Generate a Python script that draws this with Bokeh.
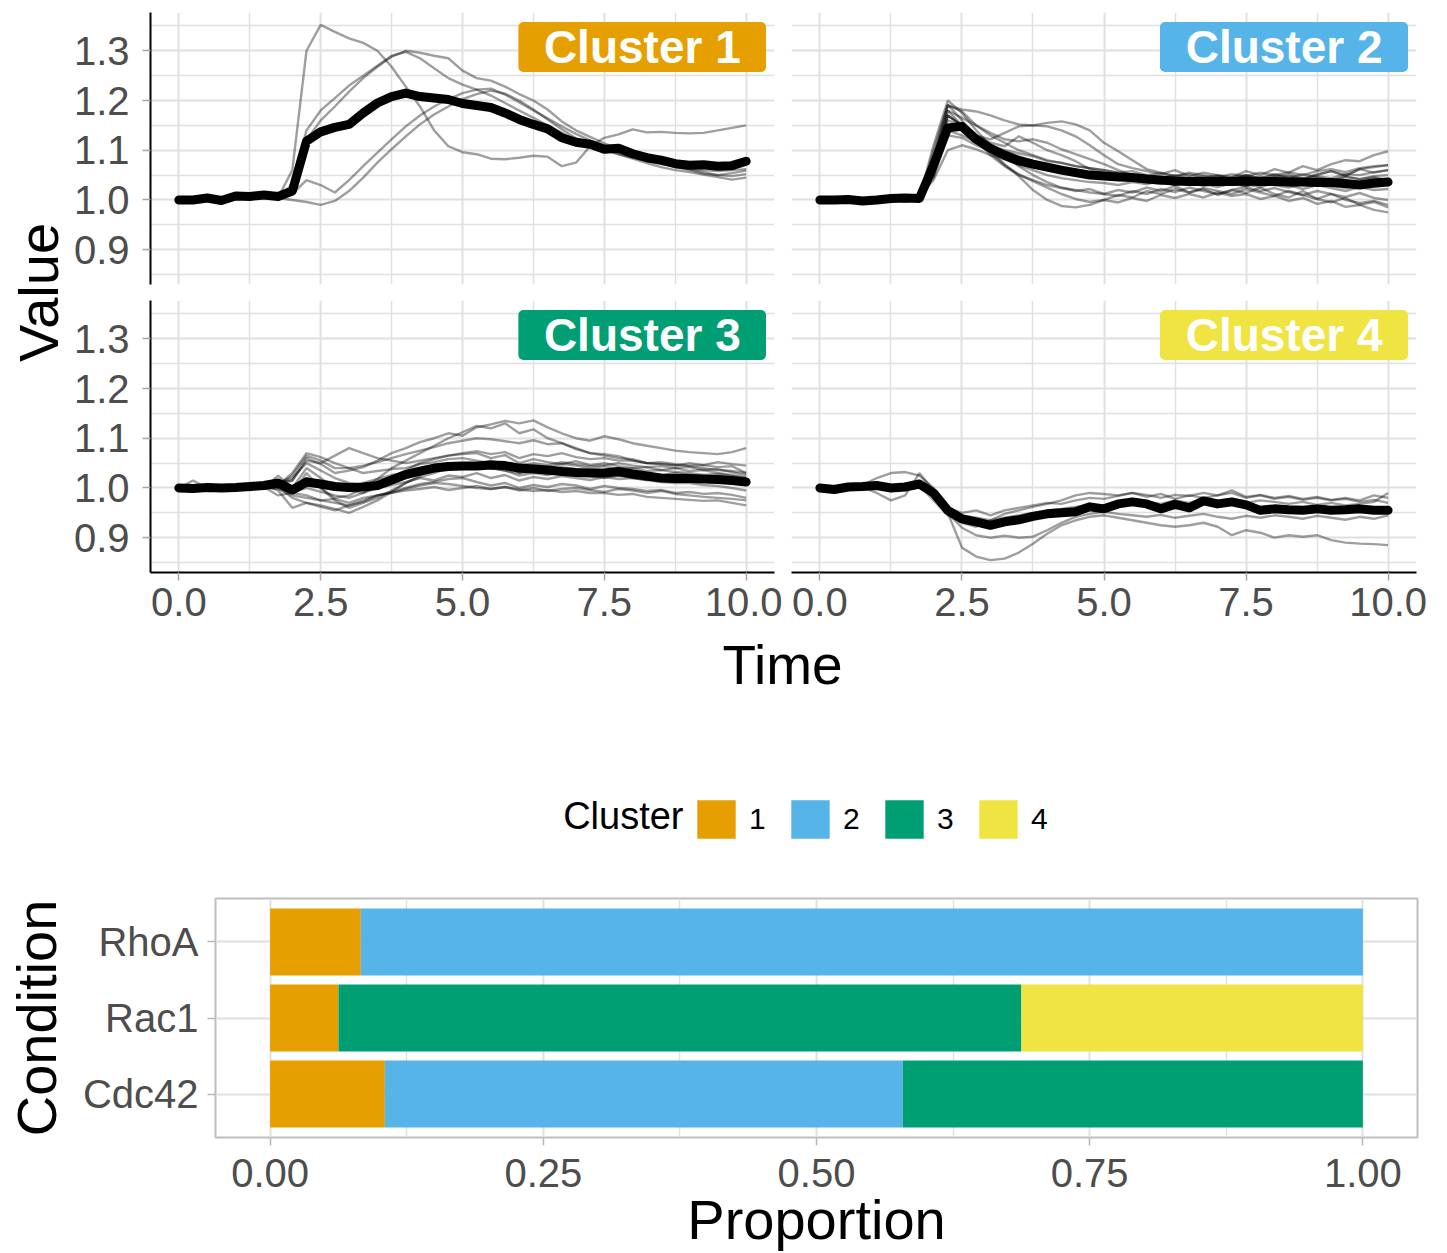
import math
from bokeh.plotting import figure
from bokeh.layouts import row, column
from bokeh.models import (ColumnDataSource, Range1d, FactorRange, LinearAxis, Grid, FixedTicker,
                          PrintfTickFormatter, Label, BoxAnnotation, Legend, LegendItem)
from bokeh.embed import file_html
from bokeh.resources import INLINE

# ---------------- data ----------------
time = [0.0, 0.25, 0.5, 0.75, 1.0, 1.25, 1.5, 1.75, 2.0, 2.25,
        2.5, 2.75, 3.0, 3.25, 3.5, 3.75, 4.0, 4.25, 4.5, 4.75,
        5.0, 5.25, 5.5, 5.75, 6.0, 6.25, 6.5, 6.75, 7.0, 7.25,
        7.5, 7.75, 8.0, 8.25, 8.5, 8.75, 9.0, 9.25, 9.5, 9.75, 10.0]

cluster_names = ["Cluster 1", "Cluster 2", "Cluster 3", "Cluster 4"]
cluster_labels = ["1", "2", "3", "4"]
cluster_colors = ["#E69F00", "#56B4E9", "#009E73", "#F0E442"]

# Cluster 1
c1_mean = [1.000, 1.000, 1.004, 0.999, 1.008, 1.007, 1.010, 1.007, 1.018, 1.118,
           1.137, 1.146, 1.152, 1.175, 1.195, 1.208, 1.215, 1.208, 1.205, 1.202,
           1.194, 1.190, 1.186, 1.175, 1.162, 1.152, 1.143, 1.125, 1.116, 1.112,
           1.102, 1.104, 1.093, 1.085, 1.080, 1.073, 1.070, 1.071, 1.068, 1.069, 1.078]
c1_a = [1.000, 1.002, 1.005, 1.000, 1.010, 1.012, 1.010, 1.005, 1.060, 1.300,
        1.352, 1.338, 1.325, 1.316, 1.300, 1.268, 1.228, 1.188, 1.140, 1.108,
        1.096, 1.092, 1.083, 1.082, 1.085, 1.089, 1.087, 1.068, 1.075, 1.108,
        1.125, 1.132, 1.142, 1.136, 1.137, 1.135, 1.134, 1.135, 1.140, 1.145, 1.150]
c1_b = [1.000, 0.998, 1.002, 1.003, 1.005, 1.008, 1.012, 1.010, 1.020, 1.120,
        1.160, 1.188, 1.218, 1.245, 1.268, 1.288, 1.300, 1.296, 1.290, 1.285,
        1.260, 1.245, 1.240, 1.228, 1.213, 1.200, 1.182, 1.158, 1.140, 1.127,
        1.114, 1.103, 1.093, 1.085, 1.074, 1.066, 1.060, 1.053, 1.050, 1.054, 1.059]
c1_c = [1.000, 1.001, 0.999, 1.004, 1.006, 1.004, 1.009, 1.008, 1.030, 1.140,
        1.180, 1.205, 1.230, 1.250, 1.270, 1.290, 1.298, 1.285, 1.265, 1.245,
        1.232, 1.222, 1.210, 1.195, 1.180, 1.165, 1.150, 1.135, 1.120, 1.110,
        1.100, 1.092, 1.085, 1.078, 1.072, 1.068, 1.063, 1.060, 1.058, 1.060, 1.062]
c1_d = [1.000, 1.000, 1.003, 1.002, 1.006, 1.005, 1.008, 1.006, 1.012, 1.040,
        1.030, 1.015, 1.040, 1.068, 1.095, 1.122, 1.148, 1.170, 1.188, 1.203,
        1.215, 1.222, 1.224, 1.212, 1.196, 1.180, 1.164, 1.148, 1.133, 1.120,
        1.110, 1.100, 1.090, 1.083, 1.076, 1.068, 1.062, 1.056, 1.050, 1.048, 1.052]
c1_e = [1.000, 0.999, 1.001, 1.000, 1.004, 1.006, 1.006, 1.004, 1.000, 0.996,
        0.990, 0.998, 1.018, 1.045, 1.075, 1.102, 1.128, 1.152, 1.172, 1.188,
        1.203, 1.213, 1.220, 1.214, 1.200, 1.182, 1.162, 1.142, 1.124, 1.112,
        1.102, 1.092, 1.083, 1.074, 1.066, 1.060, 1.056, 1.051, 1.046, 1.041, 1.045]

# Cluster 2
c2_mean = [1.000, 1.000, 1.001, 0.998, 1.000, 1.003, 1.004, 1.003, 1.070, 1.145,
           1.148, 1.122, 1.104, 1.090, 1.079, 1.072, 1.066, 1.060, 1.055, 1.050,
           1.048, 1.046, 1.045, 1.042, 1.040, 1.038, 1.037, 1.037, 1.037, 1.037,
           1.038, 1.037, 1.037, 1.036, 1.036, 1.035, 1.035, 1.033, 1.030, 1.034, 1.036]
c2_01 = [1.000, 0.996, 1.003, 0.998, 1.002, 1.006, 1.004, 1.008, 1.080, 1.190,
         1.182, 1.178, 1.170, 1.160, 1.152, 1.150, 1.155, 1.158, 1.152, 1.140,
         1.115, 1.098, 1.080, 1.062, 1.055, 1.048, 1.052, 1.045, 1.050, 1.042,
         1.048, 1.040, 1.046, 1.052, 1.044, 1.050, 1.058, 1.048, 1.062, 1.055, 1.060]
c2_02 = [1.000, 1.004, 0.998, 1.002, 0.997, 1.003, 1.007, 1.004, 1.060, 1.170,
         1.150, 1.130, 1.122, 1.135, 1.148, 1.150, 1.148, 1.140, 1.128, 1.110,
         1.090, 1.072, 1.064, 1.058, 1.052, 1.060, 1.048, 1.055, 1.050, 1.046,
         1.058, 1.050, 1.062, 1.055, 1.068, 1.060, 1.072, 1.080, 1.078, 1.090, 1.098]
c2_03 = [1.000, 0.998, 1.002, 0.995, 1.000, 1.004, 1.000, 1.005, 1.110, 1.200,
         1.175, 1.140, 1.110, 1.090, 1.068, 1.050, 1.036, 1.025, 1.018, 1.022,
         1.012, 1.020, 1.015, 1.025, 1.018, 1.028, 1.015, 1.022, 1.010, 1.020,
         1.014, 1.025, 1.012, 1.005, 1.018, 1.002, 0.995, 1.004, 0.990, 0.996, 0.985]
c2_04 = [1.000, 1.003, 0.999, 1.004, 1.001, 0.998, 1.005, 1.003, 1.070, 1.180,
         1.165, 1.150, 1.130, 1.115, 1.100, 1.090, 1.080, 1.074, 1.068, 1.064,
         1.060, 1.055, 1.058, 1.050, 1.054, 1.048, 1.055, 1.050, 1.046, 1.052,
         1.048, 1.055, 1.050, 1.044, 1.052, 1.046, 1.040, 1.048, 1.042, 1.046, 1.040]
c2_05 = [1.000, 1.002, 1.005, 1.001, 1.004, 1.000, 1.003, 1.006, 1.040, 1.100,
         1.110, 1.102, 1.090, 1.082, 1.072, 1.066, 1.060, 1.056, 1.052, 1.050,
         1.048, 1.044, 1.046, 1.040, 1.044, 1.038, 1.045, 1.040, 1.036, 1.042,
         1.038, 1.046, 1.040, 1.048, 1.042, 1.052, 1.058, 1.050, 1.062, 1.066, 1.070]
c2_06 = [1.000, 0.997, 1.001, 0.996, 0.999, 1.002, 0.998, 1.004, 1.060, 1.160,
         1.150, 1.125, 1.100, 1.072, 1.048, 1.020, 1.000, 0.988, 0.985, 0.990,
         1.000, 1.010, 1.005, 1.018, 1.012, 1.022, 1.015, 1.024, 1.018, 1.012,
         1.022, 1.015, 1.008, 1.018, 1.010, 1.002, 1.012, 1.000, 0.994, 0.998, 0.990]
c2_07 = [1.000, 1.002, 0.998, 1.001, 1.005, 1.002, 1.006, 1.008, 1.090, 1.190,
         1.178, 1.150, 1.135, 1.122, 1.118, 1.122, 1.115, 1.102, 1.092, 1.082,
         1.072, 1.060, 1.050, 1.042, 1.036, 1.030, 1.038, 1.032, 1.026, 1.034,
         1.028, 1.036, 1.030, 1.025, 1.032, 1.038, 1.030, 1.024, 1.032, 1.026, 1.030]
c2_08 = [1.000, 0.999, 1.003, 1.000, 0.997, 1.001, 1.004, 1.002, 1.065, 1.170,
         1.150, 1.120, 1.100, 1.082, 1.070, 1.060, 1.050, 1.044, 1.040, 1.036,
         1.034, 1.030, 1.036, 1.032, 1.038, 1.030, 1.036, 1.028, 1.034, 1.040,
         1.032, 1.026, 1.034, 1.030, 1.022, 1.030, 1.024, 1.018, 1.026, 1.020, 1.022]
c2_09 = [1.000, 1.003, 1.000, 1.004, 0.999, 1.003, 1.001, 1.005, 1.050, 1.150,
         1.140, 1.120, 1.110, 1.100, 1.094, 1.088, 1.078, 1.075, 1.068, 1.064,
         1.060, 1.055, 1.050, 1.046, 1.044, 1.050, 1.044, 1.040, 1.048, 1.042,
         1.050, 1.044, 1.052, 1.046, 1.040, 1.048, 1.044, 1.052, 1.050, 1.056, 1.060]
c2_10 = [1.000, 0.995, 0.999, 0.994, 0.998, 1.001, 0.997, 1.003, 1.080, 1.180,
         1.150, 1.120, 1.095, 1.070, 1.052, 1.038, 1.025, 1.012, 1.002, 0.996,
         1.000, 0.995, 1.004, 0.998, 1.010, 1.004, 1.012, 1.005, 1.015, 1.008,
         1.012, 1.002, 1.008, 0.998, 1.004, 0.992, 0.998, 0.986, 0.990, 0.980, 0.975]
c2_11 = [1.000, 1.001, 1.004, 1.002, 1.006, 1.003, 1.001, 1.004, 1.045, 1.130,
         1.125, 1.110, 1.098, 1.088, 1.080, 1.072, 1.062, 1.060, 1.056, 1.052,
         1.048, 1.044, 1.040, 1.046, 1.040, 1.036, 1.044, 1.038, 1.042, 1.036,
         1.044, 1.040, 1.046, 1.040, 1.036, 1.044, 1.038, 1.046, 1.042, 1.048, 1.050]
c2_12 = [1.000, 1.004, 1.001, 0.997, 1.002, 1.005, 1.003, 1.006, 1.070, 1.170,
         1.150, 1.130, 1.115, 1.108, 1.128, 1.115, 1.100, 1.090, 1.078, 1.062,
         1.055, 1.048, 1.040, 1.036, 1.032, 1.040, 1.034, 1.030, 1.038, 1.032,
         1.028, 1.036, 1.030, 1.036, 1.042, 1.034, 1.040, 1.032, 1.038, 1.044, 1.040]
c2_13 = [1.000, 0.998, 0.995, 1.000, 1.003, 0.999, 1.002, 1.004, 1.100, 1.192,
         1.160, 1.120, 1.090, 1.068, 1.050, 1.040, 1.030, 1.024, 1.020, 1.015,
         1.012, 1.008, 1.018, 1.012, 1.022, 1.016, 1.025, 1.018, 1.012, 1.020,
         1.026, 1.018, 1.024, 1.016, 1.010, 1.018, 1.012, 1.006, 1.014, 1.004, 1.000]
c2_14 = [1.000, 1.002, 0.999, 1.003, 1.000, 1.004, 1.006, 1.003, 1.050, 1.140,
         1.130, 1.118, 1.105, 1.098, 1.088, 1.078, 1.060, 1.064, 1.058, 1.052,
         1.048, 1.044, 1.048, 1.042, 1.046, 1.040, 1.044, 1.048, 1.042, 1.046,
         1.050, 1.044, 1.050, 1.056, 1.050, 1.058, 1.062, 1.056, 1.064, 1.068, 1.070]

# Cluster 3
c3_mean = [1.000, 0.999, 1.001, 1.000, 1.001, 1.003, 1.005, 1.010, 0.996, 1.012,
           1.008, 1.003, 1.001, 1.002, 1.005, 1.016, 1.027, 1.034, 1.040, 1.043,
           1.044, 1.044, 1.046, 1.045, 1.040, 1.038, 1.036, 1.033, 1.031, 1.030,
           1.030, 1.033, 1.028, 1.024, 1.020, 1.019, 1.019, 1.018, 1.017, 1.015, 1.012]
c3_01 = [1.000, 1.004, 0.998, 1.002, 1.000, 1.006, 1.003, 1.008, 1.015, 1.060,
         1.048, 1.030, 1.035, 1.042, 1.055, 1.070, 1.080, 1.092, 1.100, 1.110,
         1.105, 1.122, 1.128, 1.135, 1.130, 1.136, 1.122, 1.110, 1.100, 1.095,
         1.104, 1.098, 1.090, 1.085, 1.080, 1.075, 1.072, 1.070, 1.068, 1.072, 1.080]
c3_02 = [1.000, 0.996, 1.002, 0.999, 1.003, 0.998, 1.004, 1.000, 0.990, 1.020,
         1.000, 0.980, 0.985, 1.000, 1.018, 1.040, 1.055, 1.070, 1.085, 1.100,
         1.112, 1.125, 1.120, 1.130, 1.110, 1.118, 1.100, 1.090, 1.080, 1.070,
         1.065, 1.060, 1.058, 1.050, 1.048, 1.045, 1.050, 1.046, 1.052, 1.048, 1.045]
c3_03 = [1.000, 1.002, 1.006, 1.001, 0.997, 1.004, 1.010, 1.005, 1.025, 1.065,
         1.055, 1.040, 1.040, 1.045, 1.052, 1.060, 1.068, 1.075, 1.082, 1.090,
         1.095, 1.100, 1.098, 1.094, 1.090, 1.096, 1.088, 1.090, 1.078, 1.070,
         1.068, 1.064, 1.055, 1.050, 1.048, 1.046, 1.044, 1.040, 1.036, 1.034, 1.030]
c3_04 = [1.000, 0.998, 1.003, 0.996, 1.001, 1.005, 0.999, 1.004, 1.000, 1.040,
         1.020, 1.000, 0.995, 0.990, 1.005, 1.020, 1.035, 1.050, 1.058, 1.065,
         1.068, 1.070, 1.060, 1.066, 1.050, 1.058, 1.052, 1.048, 1.054, 1.046,
         1.050, 1.044, 1.040, 1.042, 1.036, 1.040, 1.034, 1.036, 1.030, 1.026, 1.020]
c3_05 = [1.000, 1.003, 0.999, 1.002, 0.998, 1.000, 1.004, 0.995, 0.960, 0.970,
         0.965, 0.958, 0.950, 0.962, 0.975, 0.992, 1.010, 1.025, 1.040, 1.045,
         1.050, 1.048, 1.055, 1.046, 1.040, 1.046, 1.042, 1.048, 1.045, 1.040,
         1.044, 1.038, 1.040, 1.034, 1.036, 1.032, 1.030, 1.026, 1.028, 1.024, 1.020]
c3_06 = [1.000, 0.997, 1.001, 1.004, 0.999, 0.996, 1.002, 0.998, 0.985, 0.980,
         0.975, 0.978, 0.970, 0.980, 0.985, 0.990, 0.995, 0.998, 1.002, 0.996,
         1.000, 1.004, 0.998, 1.002, 0.995, 1.000, 0.994, 0.998, 1.000, 0.996,
         0.992, 0.998, 0.995, 0.990, 0.994, 0.988, 0.985, 0.982, 0.980, 0.978, 0.975]
c3_07 = [1.000, 1.015, 1.000, 1.003, 1.001, 1.007, 1.004, 1.010, 1.020, 1.050,
         1.035, 1.020, 1.010, 1.005, 1.000, 1.006, 1.012, 1.020, 1.015, 1.025,
         1.022, 1.030, 1.020, 1.026, 1.015, 1.022, 1.018, 1.024, 1.020, 1.016,
         1.022, 1.018, 1.020, 1.016, 1.022, 1.018, 1.014, 1.016, 1.012, 1.014, 1.005]
c3_08 = [1.000, 1.001, 1.004, 0.999, 1.002, 1.001, 1.006, 1.004, 0.990, 1.030,
         1.000, 0.975, 0.960, 0.970, 0.980, 0.995, 1.010, 1.022, 1.030, 1.040,
         1.038, 1.045, 1.040, 1.035, 1.030, 1.034, 1.028, 1.034, 1.030, 1.026,
         1.030, 1.024, 1.028, 1.022, 1.025, 1.020, 1.022, 1.018, 1.016, 1.020, 1.010]
c3_09 = [1.000, 0.999, 0.997, 1.002, 1.000, 1.003, 0.999, 1.002, 0.980, 0.970,
         0.962, 0.955, 0.965, 0.975, 0.985, 0.992, 1.000, 1.008, 1.012, 1.018,
         1.020, 1.012, 1.005, 1.010, 1.000, 1.006, 1.002, 1.008, 1.005, 0.998,
         1.004, 1.000, 0.998, 0.994, 0.996, 0.990, 0.992, 0.988, 0.990, 0.986, 0.980]
c3_10 = [1.000, 1.002, 1.000, 1.005, 1.003, 1.001, 1.008, 1.006, 1.030, 1.070,
         1.062, 1.050, 1.040, 1.030, 1.034, 1.038, 1.040, 1.048, 1.052, 1.058,
         1.060, 1.055, 1.050, 1.048, 1.045, 1.050, 1.046, 1.052, 1.048, 1.044,
         1.046, 1.050, 1.045, 1.042, 1.044, 1.040, 1.042, 1.036, 1.038, 1.032, 1.025]
c3_11 = [1.000, 0.998, 1.002, 1.000, 0.996, 1.002, 1.000, 1.003, 0.990, 1.000,
         0.992, 0.985, 0.980, 0.990, 1.000, 1.010, 1.020, 1.028, 1.035, 1.038,
         1.040, 1.045, 1.048, 1.050, 1.030, 1.040, 1.036, 1.042, 1.038, 1.034,
         1.035, 1.030, 1.032, 1.028, 1.025, 1.030, 1.026, 1.022, 1.024, 1.018, 1.015]
c3_12 = [1.000, 1.003, 1.001, 0.998, 1.004, 1.002, 1.005, 1.010, 1.015, 1.055,
         1.050, 1.065, 1.080, 1.070, 1.060, 1.055, 1.050, 1.055, 1.060, 1.065,
         1.070, 1.074, 1.068, 1.072, 1.060, 1.068, 1.064, 1.070, 1.062, 1.058,
         1.060, 1.055, 1.055, 1.050, 1.052, 1.048, 1.045, 1.046, 1.042, 1.044, 1.030]
c3_13 = [1.000, 1.000, 1.003, 0.998, 1.001, 0.997, 1.002, 0.985, 0.990, 0.985,
         0.975, 0.970, 0.965, 0.972, 0.985, 0.990, 0.998, 1.005, 1.010, 1.008,
         1.004, 1.000, 0.998, 1.002, 0.997, 0.994, 0.996, 0.992, 0.994, 0.990,
         0.990, 0.986, 0.988, 0.982, 0.980, 0.978, 0.976, 0.974, 0.975, 0.970, 0.965]
c3_14 = [1.000, 1.001, 0.999, 1.002, 1.005, 1.003, 1.000, 1.025, 1.000, 1.020,
         1.008, 1.000, 1.000, 1.010, 1.018, 1.026, 1.030, 1.036, 1.040, 1.045,
         1.050, 1.046, 1.040, 1.035, 1.025, 1.030, 1.026, 1.032, 1.028, 1.024,
         1.020, 1.025, 1.020, 1.016, 1.012, 1.010, 1.010, 1.006, 1.004, 1.000, 0.995]

# Cluster 4
c4_mean = [1.000, 0.997, 1.002, 1.003, 1.005, 1.000, 1.002, 1.008, 0.990, 0.955,
           0.938, 0.932, 0.925, 0.932, 0.936, 0.943, 0.948, 0.950, 0.952, 0.962,
           0.958, 0.968, 0.972, 0.968, 0.958, 0.967, 0.960, 0.974, 0.968, 0.972,
           0.966, 0.955, 0.958, 0.956, 0.955, 0.958, 0.955, 0.956, 0.958, 0.955, 0.955]
c4_a = [1.000, 1.004, 1.002, 1.006, 1.020, 1.030, 1.032, 1.025, 1.000, 0.950,
        0.880, 0.862, 0.855, 0.858, 0.870, 0.888, 0.908, 0.925, 0.935, 0.942,
        0.945, 0.940, 0.935, 0.930, 0.925, 0.922, 0.925, 0.930, 0.922, 0.905,
        0.915, 0.910, 0.900, 0.905, 0.902, 0.905, 0.895, 0.890, 0.888, 0.887, 0.885]
c4_b = [1.000, 0.998, 1.004, 1.001, 0.990, 0.975, 0.985, 1.030, 0.995, 0.950,
        0.920, 0.905, 0.900, 0.904, 0.900, 0.902, 0.915, 0.930, 0.942, 0.948,
        0.952, 0.948, 0.945, 0.942, 0.946, 0.940, 0.944, 0.948, 0.942, 0.938,
        0.944, 0.940, 0.945, 0.942, 0.938, 0.944, 0.940, 0.936, 0.942, 0.938, 0.945]
c4_c = [1.000, 0.996, 1.001, 1.000, 1.004, 1.000, 1.003, 1.010, 0.985, 0.955,
        0.945, 0.940, 0.935, 0.948, 0.955, 0.962, 0.968, 0.975, 0.985, 0.990,
        0.988, 0.985, 0.990, 0.982, 0.988, 0.978, 0.985, 0.980, 0.985, 0.990,
        0.980, 0.985, 0.978, 0.982, 0.976, 0.980, 0.975, 0.978, 0.972, 0.976, 0.970]
c4_d = [1.000, 0.998, 1.003, 1.005, 1.002, 1.006, 1.004, 1.012, 0.990, 0.960,
        0.950, 0.955, 0.945, 0.955, 0.960, 0.965, 0.970, 0.968, 0.975, 0.980,
        0.978, 0.984, 0.990, 0.986, 0.980, 0.986, 0.984, 0.990, 0.985, 0.995,
        0.982, 0.986, 0.980, 0.984, 0.978, 0.982, 0.976, 0.980, 0.975, 0.985, 0.980]
c4_e = [1.000, 1.003, 0.999, 1.002, 1.005, 1.003, 1.008, 1.006, 0.975, 0.945,
        0.930, 0.922, 0.935, 0.940, 0.945, 0.950, 0.955, 0.958, 0.962, 0.966,
        0.960, 0.970, 0.975, 0.972, 0.968, 0.975, 0.970, 0.978, 0.972, 0.976,
        0.970, 0.975, 0.972, 0.968, 0.972, 0.966, 0.970, 0.965, 0.968, 0.972, 0.990]

# Proportions per condition
conditions = ["Cdc42", "Rac1", "RhoA"]
prop_c1 = [0.105, 0.0625, 0.083]
prop_c2 = [0.474, 0.0, 0.917]
prop_c3 = [0.421, 0.625, 0.0]
prop_c4 = [0.0, 0.3125, 0.0]

x_major = [0, 2.5, 5, 7.5, 10]
x_minor = [1.25, 3.75, 6.25, 8.75]
y_major = [0.9, 1.0, 1.1, 1.2, 1.3]
y_minor = [0.85, 0.95, 1.05, 1.15, 1.25, 1.35]
p_major = [0.0, 0.25, 0.5, 0.75, 1.0]
p_minor = [0.125, 0.375, 0.625, 0.875]

traces_by_cluster = [
    [c1_a, c1_b, c1_c, c1_d, c1_e],
    [c2_01, c2_02, c2_03, c2_04, c2_05, c2_06, c2_07, c2_08, c2_09, c2_10, c2_11, c2_12, c2_13, c2_14],
    [c3_01, c3_02, c3_03, c3_04, c3_05, c3_06, c3_07, c3_08, c3_09, c3_10, c3_11, c3_12, c3_13, c3_14],
    [c4_a, c4_b, c4_c, c4_d, c4_e],
]
means_by_cluster = [c1_mean, c2_mean, c3_mean, c4_mean]

# ---------------- styling ----------------
FONT = "Liberation Sans"
GRID = "#E0E0E0"
TICKC = "#A6A6A6"
LABC = "#4D4D4D"
PAGE_W = 1447
BAR_L, BAR_R = 215, 30          # bar-chart frame borders (frames of the lower column line up)
ROW2_H = 341                    # lower facet row height (ends at y=633)
TIME_H = 760 - 292 - ROW2_H     # "Time" row fills up to y=760


def style_axis(ax, standoff):
    ax.axis_line_color = "black"
    ax.axis_line_width = 2
    ax.major_tick_line_color = TICKC
    ax.major_tick_line_width = 1.5
    ax.major_tick_in = 0
    ax.major_tick_out = 8
    ax.minor_tick_line_color = None
    ax.major_label_text_font = FONT
    ax.major_label_text_font_size = "40px"
    ax.major_label_text_color = LABC
    ax.major_label_standoff = standoff


def facet(k, width, height, mbl, mbr, mbt, mbb, show_y, show_x):
    p = figure(width=width, height=height, x_range=Range1d(-0.5, 10.5), y_range=Range1d(0.830, 1.377),
               x_axis_type=None, y_axis_type=None, toolbar_location=None, output_backend="svg",
               min_border_left=mbl, min_border_right=mbr, min_border_top=mbt, min_border_bottom=mbb)
    p.outline_line_color = None
    p.add_layout(Grid(dimension=0, ticker=FixedTicker(ticks=x_major, minor_ticks=x_minor),
                      grid_line_color=GRID, grid_line_width=2,
                      minor_grid_line_color=GRID, minor_grid_line_width=1.5))
    p.add_layout(Grid(dimension=1, ticker=FixedTicker(ticks=y_major, minor_ticks=y_minor),
                      grid_line_color=GRID, grid_line_width=2,
                      minor_grid_line_color=GRID, minor_grid_line_width=1.5))
    trs = traces_by_cluster[k]
    xs = []
    ys = []
    for tr in trs:
        n = min(len(time), len(tr))
        xs.append(time[:n])
        ys.append(tr[:n])
    p.multi_line(xs=xs, ys=ys, line_color="black", line_alpha=0.38, line_width=2.4)
    m = means_by_cluster[k]
    n = min(len(time), len(m))
    p.line(time[:n], m[:n], line_color="black", line_width=9, line_join="round", line_cap="round")
    box = BoxAnnotation(left=5.985, right=10.35, bottom=1.2575, top=1.358,
                        fill_color=cluster_colors[k], fill_alpha=1.0, line_color=None)
    try:
        box.border_radius = 5
    except Exception:
        pass
    p.add_layout(box)
    p.add_layout(Label(x=8.17, y=1.308, text=cluster_names[k], text_align="center",
                       text_baseline="middle", text_color="white", text_font=FONT,
                       text_font_size="46px", text_font_style="bold"))
    if show_y:
        ya = LinearAxis(ticker=FixedTicker(ticks=y_major), formatter=PrintfTickFormatter(format="%.1f"))
        style_axis(ya, 13)
        p.add_layout(ya, "left")
    if show_x:
        xa = LinearAxis(ticker=FixedTicker(ticks=x_major), formatter=PrintfTickFormatter(format="%.1f"))
        style_axis(xa, 7)
        p.add_layout(xa, "below")
    return p


# top facets: value column 0-70, left facets 70-782, right facets 782-1447
f1 = facet(0, 712, 292, 79, 8, 12, 8, True, False)
f2 = facet(1, 665, 292, 9, 31, 12, 8, False, False)
f3 = facet(2, 712, ROW2_H, 79, 8, 8, ROW2_H - 8 - 272, True, True)
f4 = facet(3, 665, ROW2_H, 9, 31, 8, ROW2_H - 8 - 272, False, True)

value_fig = figure(width=70, height=292 + ROW2_H, x_range=Range1d(0, 70), y_range=Range1d(0, 292 + ROW2_H),
                   x_axis_type=None, y_axis_type=None, toolbar_location=None, output_backend="svg",
                   min_border=0)
value_fig.outline_line_color = None
value_fig.add_layout(Label(x=38, y=292 + ROW2_H - 292, text="Value", angle=math.pi / 2, text_align="center",
                           text_baseline="middle", text_font=FONT, text_font_size="56px",
                           text_color="black"))

# "Time" row (633-760); x data units equal page pixels
time_fig = figure(width=PAGE_W, height=TIME_H, x_range=Range1d(BAR_L, PAGE_W - BAR_R),
                  y_range=Range1d(0, TIME_H),
                  x_axis_type=None, y_axis_type=None, toolbar_location=None, output_backend="svg",
                  min_border_left=BAR_L, min_border_right=BAR_R, min_border_top=0, min_border_bottom=0)
time_fig.outline_line_color = None
time_fig.add_layout(Label(x=782, y=760 - 664, text="Time", text_align="center", text_baseline="middle",
                          text_font=FONT, text_font_size="55px", text_color="black"))

# legend row (760-870)
src = ColumnDataSource(dict(cond=conditions, c1=prop_c1, c2=prop_c2, c3=prop_c3, c4=prop_c4))
leg_fig = figure(width=PAGE_W, height=110, x_range=Range1d(BAR_L, PAGE_W - BAR_R),
                 y_range=FactorRange(factors=conditions),
                 x_axis_type=None, y_axis_type=None, toolbar_location=None, output_backend="svg",
                 min_border_left=BAR_L, min_border_right=BAR_R, min_border_top=0, min_border_bottom=0)
leg_fig.outline_line_color = None
leg_renderers = leg_fig.hbar_stack(["c1", "c2", "c3", "c4"], y="cond", height=0.88,
                                   fill_color=cluster_colors, line_color=None, source=src, visible=False)
items = [LegendItem(label=lab, renderers=[r]) for lab, r in zip(cluster_labels, leg_renderers)]
leg = Legend(items=items, orientation="horizontal", location=(692 - BAR_L, 27),
             glyph_width=48, glyph_height=48, label_standoff=9, spacing=17,
             padding=0, margin=0, border_line_color=None, background_fill_alpha=0,
             inactive_fill_alpha=0,
             label_text_font=FONT, label_text_font_size="30px", label_text_color="black")
leg_fig.add_layout(leg)
leg_fig.add_layout(Label(x=683, y=55, y_units="screen", text="Cluster", text_align="right",
                         text_baseline="middle", text_font=FONT, text_font_size="38px",
                         text_color="black"))

# ---------------- bar chart (870-1253) ----------------
bp = figure(width=PAGE_W, height=383,
            y_range=FactorRange(factors=conditions, range_padding=0.0467, range_padding_units="percent"),
            x_range=Range1d(-0.05, 1.05), toolbar_location=None, output_backend="svg",
            min_border_left=BAR_L, min_border_right=BAR_R, min_border_top=28, min_border_bottom=116)
rs = bp.hbar_stack(["c1", "c2", "c3", "c4"], y="cond", height=0.88, fill_color=cluster_colors,
                   line_color=None, source=src)
bp.outline_line_color = "#BEBEBE"
bp.outline_line_width = 2
bp.xaxis.ticker = FixedTicker(ticks=p_major)
bp.xaxis.formatter = PrintfTickFormatter(format="%.2f")
for ax, so in ((bp.xaxis[0], 13), (bp.yaxis[0], 9)):
    style_axis(ax, so)
    ax.axis_line_color = None
    ax.major_tick_line_color = "#B8B8B8"
    ax.axis_label_text_font = FONT
    ax.axis_label_text_font_size = "56px"
    ax.axis_label_text_font_style = "normal"
    ax.axis_label_text_color = "black"
bp.xaxis.axis_label = "Proportion"
bp.xaxis.axis_label_standoff = -2
bp.yaxis.axis_label = "Condition"
bp.yaxis.axis_label_standoff = 12
bp.xgrid.ticker = FixedTicker(ticks=p_major, minor_ticks=p_minor)
bp.xgrid.grid_line_color = GRID
bp.xgrid.grid_line_width = 2
bp.xgrid.minor_grid_line_color = GRID
bp.xgrid.minor_grid_line_width = 1.5
bp.ygrid.grid_line_color = GRID
bp.ygrid.grid_line_width = 2

layout = column(row(value_fig, column(row(f1, f2), row(f3, f4))), time_fig, leg_fig, bp)

open("out.html", "w").write(file_html(layout, INLINE))
